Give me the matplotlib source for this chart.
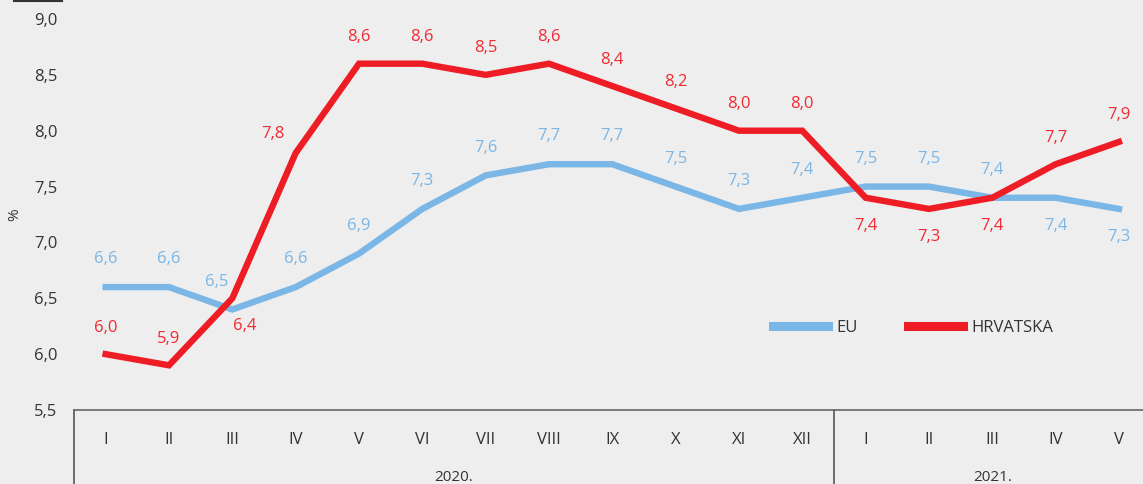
import numpy as np
import matplotlib.pyplot as plt
from matplotlib.lines import Line2D

plt.rcParams['font.family'] = ['Open Sans', 'DejaVu Sans']

months = ['I', 'II', 'III', 'IV', 'V', 'VI', 'VII', 'VIII', 'IX', 'X', 'XI', 'XII',
          'I', 'II', 'III', 'IV', 'V']
years = ['2020.', '2021.']
eu = [6.6, 6.6, 6.4, 6.6, 6.9, 7.3, 7.6, 7.7, 7.7, 7.5, 7.3, 7.4, 7.5, 7.5, 7.4, 7.4, 7.3]
hr = [6.0, 5.9, 6.5, 7.8, 8.6, 8.6, 8.5, 8.6, 8.4, 8.2, 8.0, 8.0, 7.4, 7.3, 7.4, 7.7, 7.9]
eu_labels = ['6,6', '6,6', '6,5', '6,6', '6,9', '7,3', '7,6', '7,7', '7,7', '7,5', '7,3', '7,4',
             '7,5', '7,5', '7,4', '7,4', '7,3']
hr_labels = ['6,0', '5,9', '6,4', '7,8', '8,6', '8,6', '8,5', '8,6', '8,4', '8,2', '8,0', '8,0',
             '7,4', '7,3', '7,4', '7,7', '7,9']

# label placement: +1 above, -1 below
eu_side = [1] * 15 + [-1, -1]
hr_side = [1, 1, -1] + [1] * 9 + [-1, -1, -1, 1, 1]
eu_dx = {2: -11}
hr_dx = {2: 9, 3: -16}

BG = '#eeeeee'
EU_C = '#7ab6e6'
HR_C = '#ee1c25'
TXT = '#333333'

fig = plt.figure(figsize=(11.43, 4.84), dpi=100, facecolor=BG)
ax = fig.add_axes([74 / 1143, 74 / 484, 1069 / 1143, 391 / 484], facecolor=BG)

x = np.arange(len(months))
l1, = ax.plot(x, eu, color=EU_C, lw=4.6, label='EU', solid_joinstyle='miter')
l2, = ax.plot(x, hr, color=HR_C, lw=4.6, label='HRVATSKA', solid_joinstyle='miter')

for i, (v, t) in enumerate(zip(eu, eu_labels)):
    ax.annotate(t, (i, v), xytext=(eu_dx.get(i, 0), 20 * eu_side[i]), textcoords='offset points',
                ha='center', va='center', color=EU_C, fontsize=12)
for i, (v, t) in enumerate(zip(hr, hr_labels)):
    dy = 19 * hr_side[i] if hr_side[i] > 0 else -20
    if i == 3:
        dy = 14
    ax.annotate(t, (i, v), xytext=(hr_dx.get(i, 0), dy), textcoords='offset points',
                ha='center', va='center', color='#ee2a33', fontsize=12)

ax.set_xlim(-0.5, 16.38)
ax.set_ylim(5.5, 9.0)
yt = np.arange(5.5, 9.01, 0.5)
ax.set_yticks(yt)
ax.set_yticklabels([f'{v:.1f}'.replace('.', ',') for v in yt], color=TXT, fontsize=12)
ax.tick_params(axis='y', length=0, pad=12)
ax.set_xticks(x)
ax.set_xticklabels(months, color=TXT, fontsize=12)
ax.tick_params(axis='x', length=0, pad=16)
for s in ['left', 'right', 'top']:
    ax.spines[s].set_visible(False)
ax.spines['bottom'].set_color('#666666')
ax.spines['bottom'].set_linewidth(1.2)
ax.set_ylabel('%', color=TXT, fontsize=11)
ax.yaxis.set_label_coords(-0.048, 0.5)

# table lines under the axis
xt = ax.get_xaxis_transform()
for xv in [-0.5, 11.5]:
    ax.plot([xv, xv], [0, -0.2], transform=xt, color='#555555', lw=1.2, clip_on=False)
ax.text(5.5, -0.172, years[0], transform=xt, ha='center', va='center', color=TXT, fontsize=11)
ax.text(14.0, -0.172, years[1], transform=xt, ha='center', va='center', color=TXT, fontsize=11)

leg = ax.legend(handles=[l1, l2], loc='center', bbox_to_anchor=(0.785, 0.21), ncol=2,
                frameon=False, fontsize=12, handlelength=3.3, handletextpad=0.5,
                columnspacing=3.0)
for ln in leg.get_lines():
    ln.set_linewidth(6.5)
for t in leg.get_texts():
    t.set_color(TXT)

fig.add_artist(Line2D([14 / 1143, 62 / 1143], [483.5 / 484, 483.5 / 484],
                      color='#333333', lw=1.5))

fig.savefig('out.png', dpi=100, facecolor=BG)
